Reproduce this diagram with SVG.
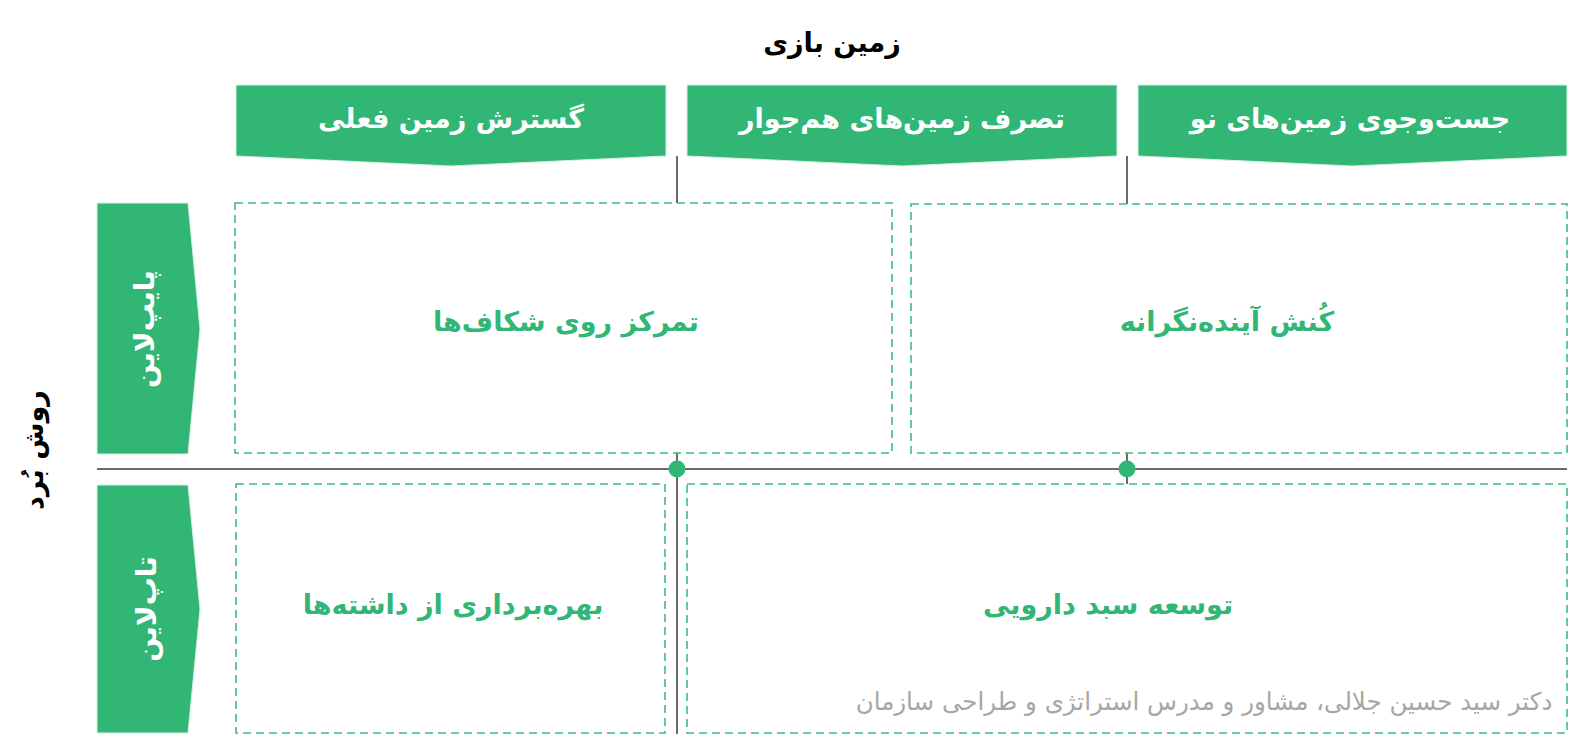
<svg xmlns="http://www.w3.org/2000/svg" width="1584" height="743" viewBox="0 0 1584 743">
<style>
.hdr{fill:#31b675;stroke:#d8efe2;stroke-width:1}
.box{fill:none;stroke:#3dbd7b;stroke-width:1.6;stroke-dasharray:8 5}
.ln{stroke:#6b6b6b;stroke-width:2;fill:none}
.dot{fill:#31b675}
.t{font-family:"DejaVu Sans",sans-serif;font-weight:bold;text-anchor:middle;direction:rtl}
.wh{fill:#ffffff;font-size:27px}
.rw{fill:#ffffff;font-size:28px}
.gr{fill:#31b675;font-size:27px}
.bk{fill:#000000;font-size:27px}
.ft{font-family:"DejaVu Sans",sans-serif;fill:#a6a6a6;font-size:24.5px;text-anchor:middle;direction:rtl}
</style>
<rect width="1584" height="743" fill="#ffffff"/>
<g id="title">
<text class="t bk" x="832" y="52">زمین بازی</text>
</g>
<g id="axis-left">
<text class="t bk" transform="translate(33,450) rotate(-90)" dominant-baseline="central">روش بُرد</text>
</g>
<g id="connectors">
<line class="ln" x1="97" y1="469" x2="1567" y2="469"/>
<line class="ln" x1="677" y1="156" x2="677" y2="203"/>
<line class="ln" x1="677" y1="453" x2="677" y2="734"/>
<line class="ln" x1="1127" y1="156" x2="1127" y2="204"/>
<line class="ln" x1="1127" y1="453" x2="1127" y2="484"/>
<circle class="dot" cx="677" cy="469" r="8.5"/>
<circle class="dot" cx="1127" cy="469" r="8.5"/>
</g>
<g id="col1">
<polygon class="hdr" points="236,85 666,85 666,156 451,166 236,156"/>
<text class="t wh" x="451" y="128">گسترش زمین فعلی</text>
</g>
<g id="col2">
<polygon class="hdr" points="687,85 1117,85 1117,156 902,166 687,156"/>
<text class="t wh" x="902" y="128">تصرف زمین&#8204;های هم&#8204;جوار</text>
</g>
<g id="col3">
<polygon class="hdr" points="1138,85 1567,85 1567,156 1352.5,166 1138,156"/>
<text class="t wh" x="1350" y="128">جست&#8204;وجوی زمین&#8204;های نو</text>
</g>
<g id="row1">
<polygon class="hdr" points="97,203 188,203 200,329 188,454 97,454"/>
<text class="t rw" transform="translate(144,329) rotate(-90)" dominant-baseline="central">پایپ&#8204;لاین</text>
</g>
<g id="row2">
<polygon class="hdr" points="97,485 188,485 200,609 188,733 97,733"/>
<text class="t rw" transform="translate(146,609) rotate(-90)" dominant-baseline="central">تاپ&#8204;لاین</text>
</g>
<g id="cell-tl">
<rect class="box" x="235" y="203" width="657" height="250"/>
<text class="t gr" x="566" y="331">تمرکز روی شکاف&#8204;ها</text>
</g>
<g id="cell-tr">
<rect class="box" x="911" y="204" width="656" height="249"/>
<text class="t gr" x="1227" y="331">کُنش آینده&#8204;نگرانه</text>
</g>
<g id="cell-bl">
<rect class="box" x="236" y="484" width="429" height="249"/>
<text class="t gr" x="453" y="614">بهره&#8204;برداری از داشته&#8204;ها</text>
</g>
<g id="cell-br">
<rect class="box" x="687" y="484" width="880" height="249"/>
<text class="t gr" x="1108" y="614">توسعه سبد دارویی</text>
<text class="ft" x="1204" y="710">دکتر سید حسین جلالی، مشاور و مدرس استراتژی و طراحی سازمان</text>
</g>
</svg>
